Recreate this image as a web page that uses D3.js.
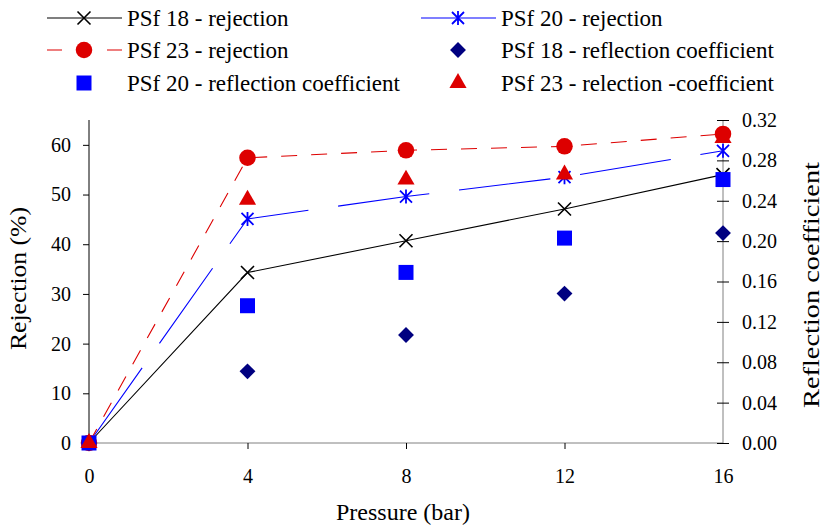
<!DOCTYPE html>
<html>
<head>
<meta charset="utf-8">
<script src="https://cdn.jsdelivr.net/npm/d3@7"></script>
<style>
  body { margin: 0; background: #fff; }
</style>
</head>
<body>
<div id="chart"></div>
<script>
// data
var pressure = [0, 4, 8, 12, 16];
var rej18 = [0, 34.3, 40.7, 47.1, 54.0];
var rej20 = [0, 45.1, 49.6, 53.5, 58.8];
var rej23 = [0, 57.4, 58.9, 59.7, 62.2];
var refl18 = [0, 0.071, 0.107, 0.148, 0.208];
var refl20 = [0, 0.136, 0.169, 0.203, 0.261];
var refl23 = [0, 0.241, 0.261, 0.266, 0.302];
var xTicks = [0, 4, 8, 12, 16];
var leftTicks = [0, 10, 20, 30, 40, 50, 60];
var rightTicks = [0, 0.04, 0.08, 0.12, 0.16, 0.20, 0.24, 0.28, 0.32];

var FONT = "Liberation Serif";
var W = 825, H = 530;
var svg = d3.select("#chart").append("svg").attr("width", W).attr("height", H);

var x = d3.scaleLinear().domain([0, 16]).range([89, 723]);
var yL = d3.scaleLinear().domain([0, 65]).range([443, 120]);
var yR = d3.scaleLinear().domain([0, 0.32]).range([443, 120]);

// marker shapes
function xMark(g, s, col) {
  g.append("path").attr("d", "M" + (-s) + "," + (-s) + "L" + s + "," + s + "M" + (-s) + "," + s + "L" + s + "," + (-s))
    .attr("stroke", col).attr("stroke-width", 1.6).attr("fill", "none");
}
function starMark(g, s, col) {
  g.append("path").attr("d", "M" + (-s) + "," + (-s) + "L" + s + "," + s + "M" + (-s) + "," + s + "L" + s + "," + (-s) + "M0," + (-s - 1) + "L0," + (s + 1))
    .attr("stroke", col).attr("stroke-width", 1.8).attr("fill", "none");
}
function symMark(type, size, col) {
  return function(g) {
    g.append("path").attr("d", d3.symbol().type(type).size(size)()).attr("fill", col);
  };
}

var series = [
  {name: "PSf 18 - rejection", vals: rej18, y: yL, line: "#000", dash: null, legDash: null, mark: function(g){ xMark(g, 6.5, "#000"); }},
  {name: "PSf 20 - rejection", vals: rej20, y: yL, line: "#0000ff", dash: "92,30", legDash: null, mark: function(g){ starMark(g, 6, "#0000ff"); }},
  {name: "PSf 23 - rejection", vals: rej23, y: yL, line: "#dd0000", dash: "16,14", legDash: "15,45,15", mark: symMark(d3.symbolCircle, 215, "#dd0000")},
  {name: "PSf 18 - reflection coefficient", vals: refl18, y: yR, line: null, mark: symMark(d3.symbolDiamond2, 160, "#000080")},
  {name: "PSf 20 - reflection coefficient", vals: refl20, y: yR, line: null, mark: symMark(d3.symbolSquare, 225, "#0000ff")},
  {name: "PSf 23 - relection -coefficient", vals: refl23, y: yR, line: null, mark: symMark(d3.symbolTriangle2, 210, "#dd0000")}
];

// axes
var axL = svg.append("g").attr("transform", "translate(89,0)")
  .call(d3.axisLeft(yL).tickValues(leftTicks).tickSize(6).tickPadding(12));
axL.select(".domain").attr("d", "M0,120V443").attr("stroke", "#000");
axL.selectAll(".tick line").attr("stroke", "#000");
axL.selectAll("text").attr("font-size", 20).attr("fill", "#000").style("font-family", FONT);

var axB = svg.append("g").attr("transform", "translate(0,443)")
  .call(d3.axisBottom(x).tickValues(xTicks).tickSize(6).tickPadding(20));
axB.select(".domain").attr("d", "M89,0H723").attr("stroke", "#808080");
axB.selectAll(".tick line").attr("stroke", "#000").filter(function(d){ return d === 0 || d === 16; }).remove();
axB.selectAll("text").attr("font-size", 20).attr("fill", "#000").style("font-family", FONT);

var axR = svg.append("g").attr("transform", "translate(723,0)")
  .call(d3.axisRight(yR).tickValues(rightTicks).tickFormat(d3.format(".2f")).tickSize(6).tickPadding(13));
axR.select(".domain").attr("d", "M0,120V443").attr("stroke", "#808080");
axR.selectAll(".tick line").attr("x1", -6).attr("x2", 6).attr("stroke", "#000");
axR.selectAll("text").attr("font-size", 20).attr("fill", "#000").style("font-family", FONT);

// axis titles
svg.append("text").attr("transform", "translate(26,278.5) rotate(-90)").attr("text-anchor", "middle")
  .attr("font-size", 24).attr("textLength", 143).attr("lengthAdjust", "spacingAndGlyphs")
  .style("font-family", FONT).text("Rejection (%)");
svg.append("text").attr("transform", "translate(819,408) rotate(-90)").attr("text-anchor", "start")
  .attr("font-size", 23).attr("textLength", 246).attr("lengthAdjust", "spacingAndGlyphs")
  .style("font-family", FONT).text("Reflection coefficient");
svg.append("text").attr("x", 403).attr("y", 520).attr("text-anchor", "middle")
  .attr("font-size", 24).style("font-family", FONT).text("Pressure (bar)");

// lines and markers
var plot = svg.append("g");
series.forEach(function(s) {
  if (s.line) {
    var ln = d3.line().x(function(d, i){ return x(pressure[i]); }).y(function(d){ return s.y(d); });
    plot.append("path").datum(s.vals).attr("d", ln).attr("fill", "none")
      .attr("stroke", s.line).attr("stroke-width", 1.1).attr("stroke-dasharray", s.dash);
  }
});
series.forEach(function(s) {
  s.vals.forEach(function(v, i) {
    var g = plot.append("g").attr("transform", "translate(" + x(pressure[i]) + "," + s.y(v) + ")");
    s.mark(g);
  });
});

// legend
var legPos = [[47, 18], [421, 18], [47, 50], [421, 50], [47, 83], [421, 83]];
series.forEach(function(s, i) {
  var p = legPos[i];
  var lg = svg.append("g").attr("transform", "translate(" + p[0] + "," + p[1] + ")");
  if (s.line) {
    lg.append("line").attr("x1", 0).attr("x2", 75).attr("stroke", s.line).attr("stroke-width", 1.1)
      .attr("stroke-dasharray", s.legDash);
  }
  var m = lg.append("g").attr("transform", "translate(37,0)");
  s.mark(m);
  lg.append("text").attr("x", 80).attr("y", 7.5).attr("font-size", 23).style("font-family", FONT).text(s.name);
});
</script>
</body>
</html>
